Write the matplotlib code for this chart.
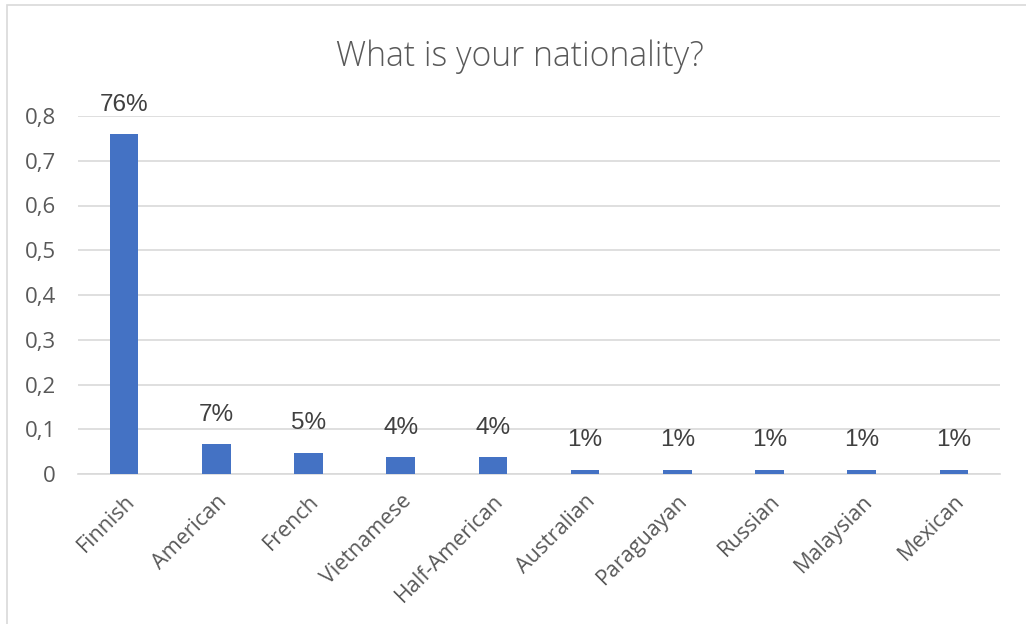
import matplotlib
matplotlib.use("Agg")
import matplotlib.pyplot as plt
from matplotlib.patches import Rectangle

# survey results
nationalities = ["Finnish", "American", "French", "Vietnamese", "Half-American",
                 "Australian", "Paraguayan", "Russian", "Malaysian", "Mexican"]
shares = [0.76, 0.067, 0.048, 0.038, 0.038, 0.01, 0.01, 0.01, 0.01, 0.01]
labels = ["76%", "7%", "5%", "4%", "4%", "1%", "1%", "1%", "1%", "1%"]
yticks = [0, 0.1, 0.2, 0.3, 0.4, 0.5, 0.6, 0.7, 0.8]
ytick_labels = ["0", "0,1", "0,2", "0,3", "0,4", "0,5", "0,6", "0,7", "0,8"]

text_col = "#595959"
fig = plt.figure(figsize=(10.26, 6.24), dpi=100)
ax = fig.add_axes([78 / 1026, 1 - 474 / 624, 922 / 1026, 358 / 624])

x = list(range(len(nationalities)))
ax.bar(x, shares, width=0.31, color="#4472C4", zorder=3)
for xi, v, lab in zip(x, shares, labels):
    ax.annotate(lab, (xi, v), xytext=(0, 13), textcoords="offset points",
                ha="center", va="bottom", fontsize=17.5, color="#404040",
                family="Liberation Sans", annotation_clip=False)

ax.set_xlim(-0.5, len(nationalities) - 0.5)
ax.set_ylim(0, 0.8)
ax.set_yticks(yticks)
ax.set_yticklabels(ytick_labels, family="Open Sans", fontsize=16, color=text_col)
ax.set_xticks(x)
ax.set_xticklabels(nationalities, rotation=45, ha="right", rotation_mode="anchor",
                   family="Open Sans", fontsize=15.5, color=text_col)
ax.tick_params(length=0)
ax.tick_params(axis="y", pad=16)
ax.tick_params(axis="x", pad=12)
ax.grid(axis="y", color="#D9D9D9", linewidth=1.2, zorder=0)
for s in ["top", "right", "left"]:
    ax.spines[s].set_visible(False)
ax.spines["bottom"].set_color("#D9D9D9")
ax.spines["bottom"].set_linewidth(1.2)

fig.text(520 / 1026, 1 - 57 / 624, "What is your nationality?", ha="center", va="center",
         fontsize=24.3, color=text_col, family="Open Sans", fontweight="light")

# chart area border (only top and left visible)
fig.patches.append(Rectangle((7 / 1026, -0.1), 1.2, 1 - 5 / 624 + 0.1,
                             transform=fig.transFigure, fill=False,
                             edgecolor="#D9D9D9", linewidth=1.2))

fig.savefig("out.png", dpi=100)
